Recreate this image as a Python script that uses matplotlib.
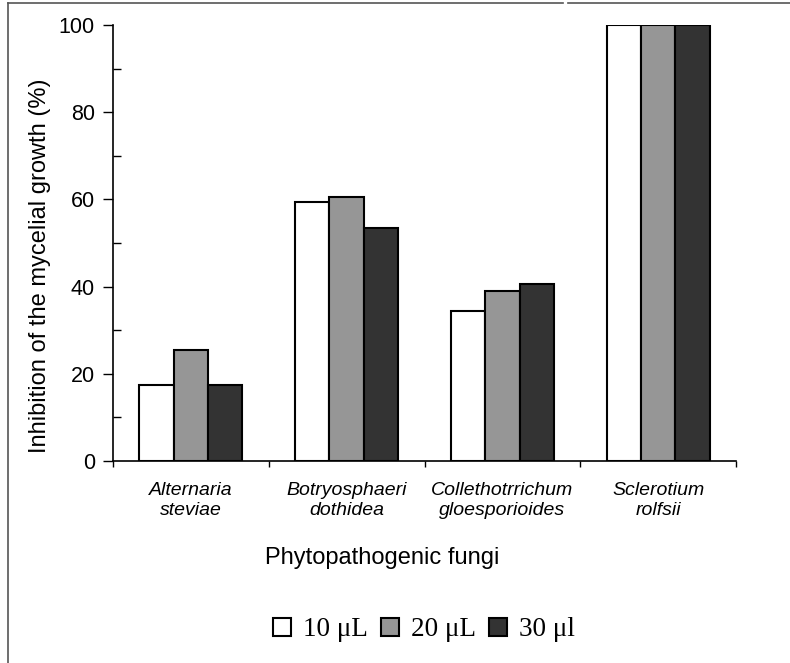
import numpy as np
import matplotlib
matplotlib.use("Agg")
import matplotlib.pyplot as plt
from matplotlib.lines import Line2D
from matplotlib.patches import Patch

fungi = ["Alternaria\nsteviae", "Botryosphaeri\ndothidea",
         "Collethotrrichum\ngloesporioides", "Sclerotium\nrolfsii"]
doses = ["10 \u03bcL", "20 \u03bcL", "30 \u03bcl"]
v10 = [17.5, 59.5, 34.5, 100]
v20 = [25.5, 60.5, 39.0, 100]
v30 = [17.5, 53.5, 40.5, 100]
colors = ["white", "#969696", "#333333"]

plt.rcParams['font.family'] = ['Liberation Sans', 'DejaVu Sans']

fig = plt.figure(figsize=(7.9, 6.63), dpi=100)
ax = fig.add_axes([113 / 790, 1 - 461 / 663, 623 / 790, 436 / 663])

x = np.arange(len(fungi))
w = 0.22
for i, (vals, c) in enumerate(zip([v10, v20, v30], colors)):
    ax.bar(x + (i - 1) * w, vals, w, color=c, edgecolor="black", linewidth=1.5, zorder=3)

ax.set_xlim(-0.5, 3.5)
ax.set_ylim(0, 100)
ax.set_yticks(range(0, 101, 20))
ax.set_yticks(range(10, 100, 20), minor=True)
ax.tick_params(axis='y', which='major', direction='out', length=7, width=1, labelsize=15.5, pad=6)
ax.tick_params(axis='y', which='minor', direction='in', length=6, width=1)

# category boundaries as ticks, names at centres
ax.set_xticks(np.arange(-0.5, 4, 1))
ax.set_xticklabels([])
ax.tick_params(axis='x', which='major', direction='out', length=4, width=1)
ax.set_xticks(x, minor=True)
ax.set_xticklabels(fungi, minor=True, style='italic', fontsize=14, linespacing=1.25)
ax.tick_params(axis='x', which='minor', length=0, pad=15)

for s in ["top", "right"]:
    ax.spines[s].set_visible(False)
ax.spines["left"].set_linewidth(1.2)
ax.spines["bottom"].set_linewidth(1.2)

fig.text(40 / 790, 1 - 266 / 663, "Inhibition of the mycelial growth (%)",
         rotation=90, ha='center', va='center', fontsize=17)
fig.text(382 / 790, 1 - 558 / 663, "Phytopathogenic fungi",
         ha='center', va='center', fontsize=17)

handles = [Patch(facecolor=c, edgecolor="black", linewidth=1.5) for c in colors]
fig.legend(handles, doses, loc='center', bbox_to_anchor=(424 / 790, 1 - 630 / 663),
           ncol=3, frameon=False, handlelength=0.65, handleheight=0.65,
           handletextpad=0.45, columnspacing=0.5,
           prop={'family': 'Liberation Serif', 'size': 19.5})

# outer frame
fig.add_artist(Line2D([8 / 790, 563 / 790], [1 - 3 / 663] * 2, color="#555555", lw=1.2))
fig.add_artist(Line2D([568 / 790, 1], [1 - 3 / 663] * 2, color="#555555", lw=1.2))
fig.add_artist(Line2D([8 / 790] * 2, [0, 1 - 3 / 663], color="#555555", lw=1.2))

fig.savefig("out.png", dpi=100)
